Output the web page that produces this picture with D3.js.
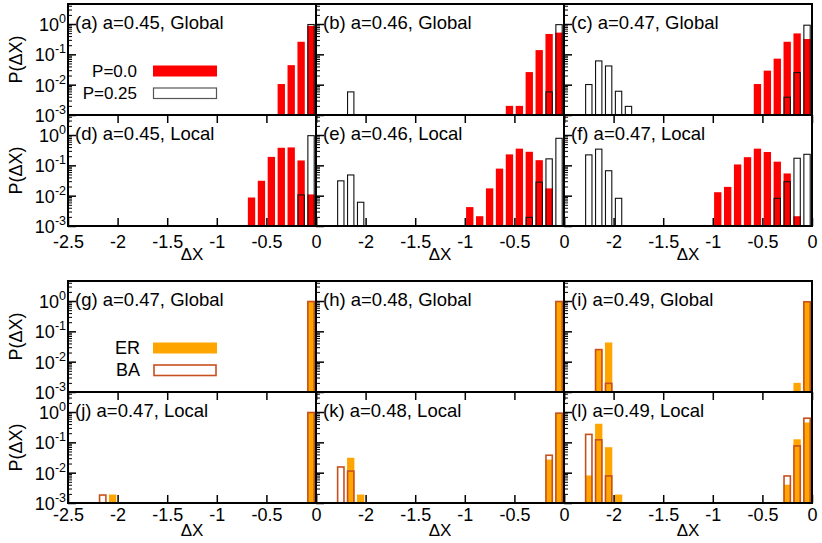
<!DOCTYPE html>
<html>
<head>
<meta charset="utf-8">
<script src="https://cdn.jsdelivr.net/npm/d3@7"></script>
<style>
body { margin: 0; background: #fff; }
text { font-family: "Liberation Sans", Arial, sans-serif; fill: #000; }
</style>
</head>
<body>
<script>
// x ticks / y ticks
const xTicks = [-2.5, -2, -1.5, -1, -0.5, 0];
const yMajor = [1e-3, 1e-2, 1e-1, 1];

// top group, [bin centre, P(dX)] : P=0.0 (filled) and P=0.25 (outline)
const aP00 = [[-0.35,0.0105],[-0.25,0.044],[-0.15,0.26],[-0.05,0.87]];
const aP25 = [[-0.05,1.0]];
const bP00 = [[-0.55,0.002],[-0.45,0.002],[-0.35,0.026],[-0.25,0.138],[-0.15,0.47],[-0.05,0.52]];
const bP25 = [[-2.15,0.006],[-0.15,0.006],[-0.05,0.99]];
const cP00 = [[-0.55,0.0105],[-0.45,0.029],[-0.35,0.072],[-0.25,0.26],[-0.15,0.49],[-0.05,0.32]];
const cP25 = [[-2.25,0.0105],[-2.15,0.063],[-2.05,0.043],[-1.95,0.0063],[-1.85,0.002],[-0.25,0.004],[-0.15,0.026],[-0.05,0.95]];
const dP00 = [[-0.65,0.0087],[-0.55,0.031],[-0.45,0.19],[-0.35,0.38],[-0.25,0.39],[-0.15,0.145],[-0.05,0.011]];
const dP25 = [[-0.15,0.011],[-0.05,0.99]];
const eP00 = [[-0.95,0.0042],[-0.85,0.0021],[-0.75,0.0174],[-0.65,0.078],[-0.55,0.23],[-0.45,0.355],[-0.35,0.28],[-0.25,0.148],[-0.15,0.0174]];
const eP25 = [[-2.25,0.032],[-2.15,0.05],[-2.05,0.0063],[-0.35,0.002],[-0.25,0.029],[-0.15,0.17],[-0.05,0.81]];
const fP00 = [[-0.95,0.013],[-0.85,0.0195],[-0.75,0.107],[-0.65,0.186],[-0.55,0.355],[-0.45,0.275],[-0.35,0.132],[-0.25,0.054],[-0.15,0.0021]];
const fP25 = [[-2.25,0.23],[-2.15,0.355],[-2.05,0.069],[-1.95,0.0085],[-0.35,0.0085],[-0.25,0.030],[-0.15,0.178],[-0.05,0.24]];

// bottom group: ER (filled) and BA (outline)
const gER = [[-0.05,1.0]];
const gBA = [[-0.05,1.0]];
const hER = [[-0.05,1.0]];
const hBA = [[-0.05,1.0]];
const iER = [[-2.15,0.026],[-2.05,0.043],[-0.15,0.002],[-0.05,0.97]];
const iBA = [[-2.15,0.026],[-2.05,0.002],[-0.05,0.98]];
const jER = [[-2.05,0.0019],[-0.05,1.0]];
const jBA = [[-2.15,0.0019],[-0.05,1.0]];
const kER = [[-2.15,0.031],[-2.05,0.0019],[-0.15,0.027],[-0.05,0.94]];
const kBA = [[-2.25,0.016],[-2.15,0.0117],[-0.15,0.039],[-0.05,0.95]];
const lER = [[-2.25,0.0081],[-2.15,0.41],[-2.05,0.069],[-1.95,0.0019],[-0.25,0.004],[-0.15,0.126],[-0.05,0.45]];
const lBA = [[-2.25,0.19],[-2.15,0.126],[-2.05,0.0081],[-0.25,0.0081],[-0.15,0.079],[-0.05,0.65]];

const labels = ["(a) a=0.45, Global","(b) a=0.46, Global","(c) a=0.47, Global",
                "(d) a=0.45, Local","(e) a=0.46, Local","(f) a=0.47, Local",
                "(g) a=0.47, Global","(h) a=0.48, Global","(i) a=0.49, Global",
                "(j) a=0.47, Local","(k) a=0.48, Local","(l) a=0.49, Local"];
const filled = [aP00,bP00,cP00,dP00,eP00,fP00,gER,hER,iER,jER,kER,lER];
const outlined = [aP25,bP25,cP25,dP25,eP25,fP25,gBA,hBA,iBA,jBA,kBA,lBA];

const svg = d3.select("body").append("svg")
    .attr("width", 822)
    .attr("height", 543);

const colX = [68, 316, 564], colW = 248;
const rowY = [4, 115, 281, 392], rowH = 111;
const bw = 0.074;  // bar width in data units
const colors = [
  {fill: "#ff0000", line: "#111"},
  {fill: "#ffa500", line: "#c8501e"}
];

labels.forEach((lab, i) => {
  const c = i % 3, r = Math.floor(i / 3), grp = r < 2 ? 0 : 1;
  const x = d3.scaleLinear().domain([-2.5, 0]).range([colX[c], colX[c] + colW]);
  const y = d3.scaleLog().domain([1e-3, Math.pow(10, 0.66)]).range([rowY[r] + rowH, rowY[r]]);
  const g = svg.append("g");

  g.selectAll("rect.f")
    .data(filled[i])
    .join("rect")
    .attr("class", "f")
    .attr("x", d => x(d[0] - bw / 2))
    .attr("width", x(bw) - x(0))
    .attr("y", d => y(d[1]))
    .attr("height", d => y(1e-3) - y(d[1]))
    .attr("fill", colors[grp].fill);

  g.selectAll("rect.o")
    .data(outlined[i])
    .join("rect")
    .attr("class", "o")
    .attr("x", d => x(d[0] - bw / 2) + 0.5)
    .attr("width", x(bw) - x(0) - 1)
    .attr("y", d => y(d[1]) + 0.5)
    .attr("height", d => y(1e-3) - y(d[1]) - 0.5)
    .attr("fill", "none")
    .attr("stroke", colors[grp].line)
    .attr("stroke-width", grp ? 1.6 : 1.1);

  // y ticks, inward
  const minor = y.ticks().filter(v => !yMajor.includes(v));
  g.append("g").attr("transform", `translate(${colX[c]},0)`)
    .call(d3.axisRight(y).tickValues(yMajor).tickSize(8).tickFormat(""))
    .call(a => a.select(".domain").remove())
    .selectAll("line").attr("stroke-width", 1.5);
  g.append("g").attr("transform", `translate(${colX[c]},0)`)
    .call(d3.axisRight(y).tickValues(minor).tickSize(4).tickFormat(""))
    .call(a => a.select(".domain").remove());

  // x ticks on the lower panels of each group
  if (r % 2 === 1) {
    g.append("g").attr("transform", `translate(0,${rowY[r] + rowH})`)
      .call(d3.axisTop(x).tickValues(xTicks).tickSize(8).tickFormat(""))
      .call(a => a.select(".domain").remove())
      .selectAll("line").attr("stroke-width", 1.5);
    g.append("g").attr("transform", `translate(0,${rowY[r]})`)
      .call(d3.axisBottom(x).tickValues(xTicks).tickSize(8).tickFormat(""))
      .call(a => a.select(".domain").remove())
      .selectAll("line").attr("stroke-width", 1.5);
    const lab = g.append("g").attr("transform", `translate(0,${rowY[r] + rowH})`)
      .call(d3.axisBottom(x).tickValues(c === 0 ? xTicks : xTicks.slice(1))
        .tickSize(0).tickPadding(r === 1 ? 9 : 5).tickFormat(d => String(d)));
    lab.select(".domain").remove();
    lab.selectAll("text").style("font-size", "18px")
      .style("font-family", '"Liberation Sans", Arial, sans-serif').attr("fill", "#000");
    g.append("text")
      .attr("x", colX[c] + colW / 2)
      .attr("y", r === 1 ? 260 : 536)
      .attr("text-anchor", "middle")
      .style("font-size", "17px")
      .text("ΔX");
  }

  g.append("rect")
    .attr("x", colX[c]).attr("y", rowY[r])
    .attr("width", colW).attr("height", rowH)
    .attr("fill", "none").attr("stroke", "#000").attr("stroke-width", 2);

  g.append("text")
    .attr("x", colX[c] + 7)
    .attr("y", rowY[r] + 24.5)
    .style("font-size", "18.5px")
    .text(lab);

  if (c === 0) {
    yMajor.forEach(v => {
      const t = g.append("text")
        .attr("x", 66)
        .attr("y", y(v) + 7)
        .attr("text-anchor", "end")
        .style("font-size", "18px");
      t.append("tspan").text("10");
      t.append("tspan").attr("dy", -8).style("font-size", "12.5px").text(String(Math.round(Math.log10(v))));
    });
    g.append("text")
      .attr("transform", `translate(21.5,${rowY[r] + rowH / 2}) rotate(-90)`)
      .attr("text-anchor", "middle")
      .style("font-size", "18px")
      .text("P(ΔX)");
  }
});

// legends
const leg = svg.append("g").style("font-size", "17px");
leg.append("text").attr("x", 137).attr("y", 77).attr("text-anchor", "end").text("P=0.0");
leg.append("rect").attr("x", 153).attr("y", 65.5).attr("width", 64).attr("height", 11).attr("fill", "#ff0000");
leg.append("text").attr("x", 137).attr("y", 99).attr("text-anchor", "end").text("P=0.25");
leg.append("rect").attr("x", 153.5).attr("y", 88).attr("width", 63).attr("height", 10.5)
  .attr("fill", "#fff").attr("stroke", "#555").attr("stroke-width", 1.2);
leg.append("text").attr("x", 140).attr("y", 354).attr("text-anchor", "end").style("font-size", "18px").text("ER");
leg.append("rect").attr("x", 153).attr("y", 342.5).attr("width", 64).attr("height", 11).attr("fill", "#ffa500");
leg.append("text").attr("x", 140).attr("y", 376).attr("text-anchor", "end").style("font-size", "18px").text("BA");
leg.append("rect").attr("x", 154).attr("y", 365).attr("width", 62).attr("height", 10.5)
  .attr("fill", "#fff").attr("stroke", "#c8501e").attr("stroke-width", 1.6);
</script>
</body>
</html>
